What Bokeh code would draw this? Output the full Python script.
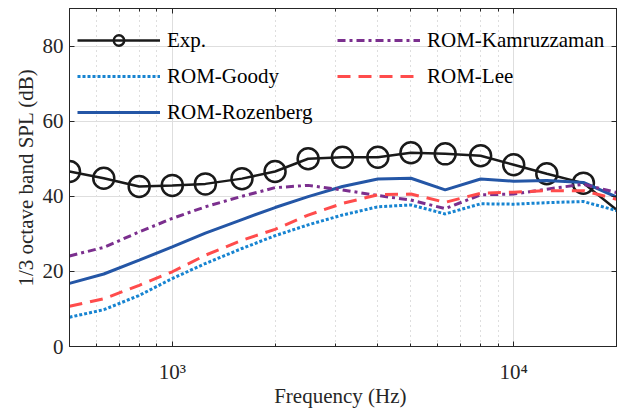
from bokeh.plotting import figure
from bokeh.models import (Range1d, FixedTicker, Legend, LegendItem,
                          LinearAxis, LogAxis)
from bokeh.embed import file_html
from bokeh.resources import INLINE

# 1/3-octave band centre frequencies (Hz)
freq = [500, 630, 800, 1000, 1250, 1600, 2000, 2500, 3150, 4000,
        5000, 6300, 8000, 10000, 12500, 16000, 20000]

# band SPL (dB)
exp_spl = [46.6, 44.8, 42.6, 42.9, 43.3, 44.7, 46.6, 50.0, 50.4, 50.4,
           51.6, 51.3, 50.8, 48.4, 46.0, 43.5, 36.4]
goody = [7.8, 9.8, 13.6, 18.1, 22.1, 26.1, 29.5, 32.4, 35.0, 37.2,
         37.7, 35.3, 38.0, 37.9, 38.3, 38.6, 36.2]
rozenberg = [16.8, 19.3, 23.0, 26.5, 30.2, 33.8, 37.0, 39.9, 42.6, 44.6,
             44.8, 41.7, 44.6, 44.0, 44.2, 43.7, 39.8]
kamruzzaman = [24.1, 26.4, 30.5, 34.1, 37.2, 40.0, 42.3, 42.9, 41.7, 40.2,
               39.0, 36.7, 40.4, 40.6, 41.9, 43.2, 41.0]
lee = [10.7, 12.7, 16.3, 19.9, 24.3, 28.3, 31.2, 35.0, 38.1, 40.4,
       40.6, 38.4, 40.8, 41.1, 41.5, 41.5, 39.2]

x_major = [1000, 10000]
x_minor = [600, 700, 800, 900, 2000, 3000, 4000, 5000, 6000, 7000, 8000,
           9000, 20000]
y_ticks = [0, 20, 40, 60, 80]

FONT = "Liberation Serif"
AX = "#262626"

p = figure(width=624, height=411, x_axis_type="log",
           x_range=Range1d(500, 20000), y_range=Range1d(0, 90),
           output_backend="svg", toolbar_location=None,
           min_border_left=69, min_border_right=8,
           min_border_top=8, min_border_bottom=65)
p.background_fill_color = "white"
p.border_fill_color = "white"
p.outline_line_color = AX
p.outline_line_width = 1

xt = FixedTicker(ticks=x_major, minor_ticks=x_minor)
yt = FixedTicker(ticks=y_ticks)

bottom = p.below[0]
left = p.left[0]
bottom.ticker = xt
bottom.major_label_overrides = {1000: "10\u00b3", 10000: "10\u2074"}
left.ticker = yt
bottom.axis_label = "Frequency  (Hz)"
left.axis_label = "1/3 octave band SPL (dB)"

# box axes on top and right: inward ticks only, no labels
top = LogAxis(ticker=xt)
right = LinearAxis(ticker=yt)
for ax in (top, right):
    ax.major_label_text_font_size = "0px"
    ax.major_label_text_color = None
    ax.major_label_standoff = 0
    ax.axis_label_standoff = 0
p.add_layout(top, "above")
p.add_layout(right, "right")

for ax in (bottom, left, top, right):
    ax.axis_line_color = AX
    ax.major_tick_line_color = AX
    ax.minor_tick_line_color = AX if ax in (bottom, top) else None
    ax.major_tick_in = 5
    ax.major_tick_out = 0
    ax.minor_tick_in = 3
    ax.minor_tick_out = 0

for ax in (bottom, left):
    ax.major_label_text_font = FONT
    ax.major_label_text_color = AX
    ax.major_label_text_font_size = "21px"
    ax.axis_label_text_font = FONT
    ax.axis_label_text_font_style = "normal"
    ax.axis_label_text_color = AX
    ax.axis_label_text_font_size = "21px"

bottom.major_label_standoff = 13
left.major_label_standoff = 6
bottom.axis_label_standoff = -3
left.axis_label_standoff = 2

# grids
p.xgrid.ticker = xt
p.ygrid.ticker = yt
p.xgrid.grid_line_color = "#dedede"
p.ygrid.grid_line_color = "#dedede"
p.xgrid.minor_grid_line_color = "#bdbdbd"
p.xgrid.minor_grid_line_dash = "1 4"
p.xgrid.minor_grid_line_width = 1

# series
r_exp = p.line(freq, exp_spl, line_color="#1a1a1a", line_width=2.5)
r_exp_pts = p.scatter(freq[:-1], exp_spl[:-1], marker="circle", size=21,
                      fill_color=None, line_color="#1a1a1a", line_width=2.5)
r_goody = p.line(freq, goody, line_color="#1784d1", line_width=3,
                 line_dash="3 2")
r_roz = p.line(freq, rozenberg, line_color="#2456a6", line_width=3)
r_kam = p.line(freq, kamruzzaman, line_color="#7b2f8e", line_width=3,
               line_dash="8 4 3 4")
r_lee = p.line(freq, lee, line_color="#ff4c4c", line_width=3,
               line_dash="13 8")


def make_legend(items, loc):
    return Legend(items=items, location=loc, orientation="vertical",
                  label_text_font=FONT, label_text_font_size="21px",
                  label_text_color="#000000",
                  glyph_width=83, glyph_height=26, label_height=26,
                  spacing=10, padding=0, margin=0, label_standoff=7,
                  border_line_color=None, background_fill_alpha=0)


leg1 = make_legend([
    LegendItem(label="Exp.", renderers=[r_exp, r_exp_pts]),
    LegendItem(label="ROM-Goody", renderers=[r_goody]),
    LegendItem(label="ROM-Rozenberg", renderers=[r_roz]),
], (8, 221))
leg2 = make_legend([
    LegendItem(label="ROM-Kamruzzaman", renderers=[r_kam]),
    LegendItem(label="ROM-Lee", renderers=[r_lee]),
], (268, 257))
p.add_layout(leg1, "center")
p.add_layout(leg2, "center")

open("out.html", "w").write(file_html(p, INLINE))
